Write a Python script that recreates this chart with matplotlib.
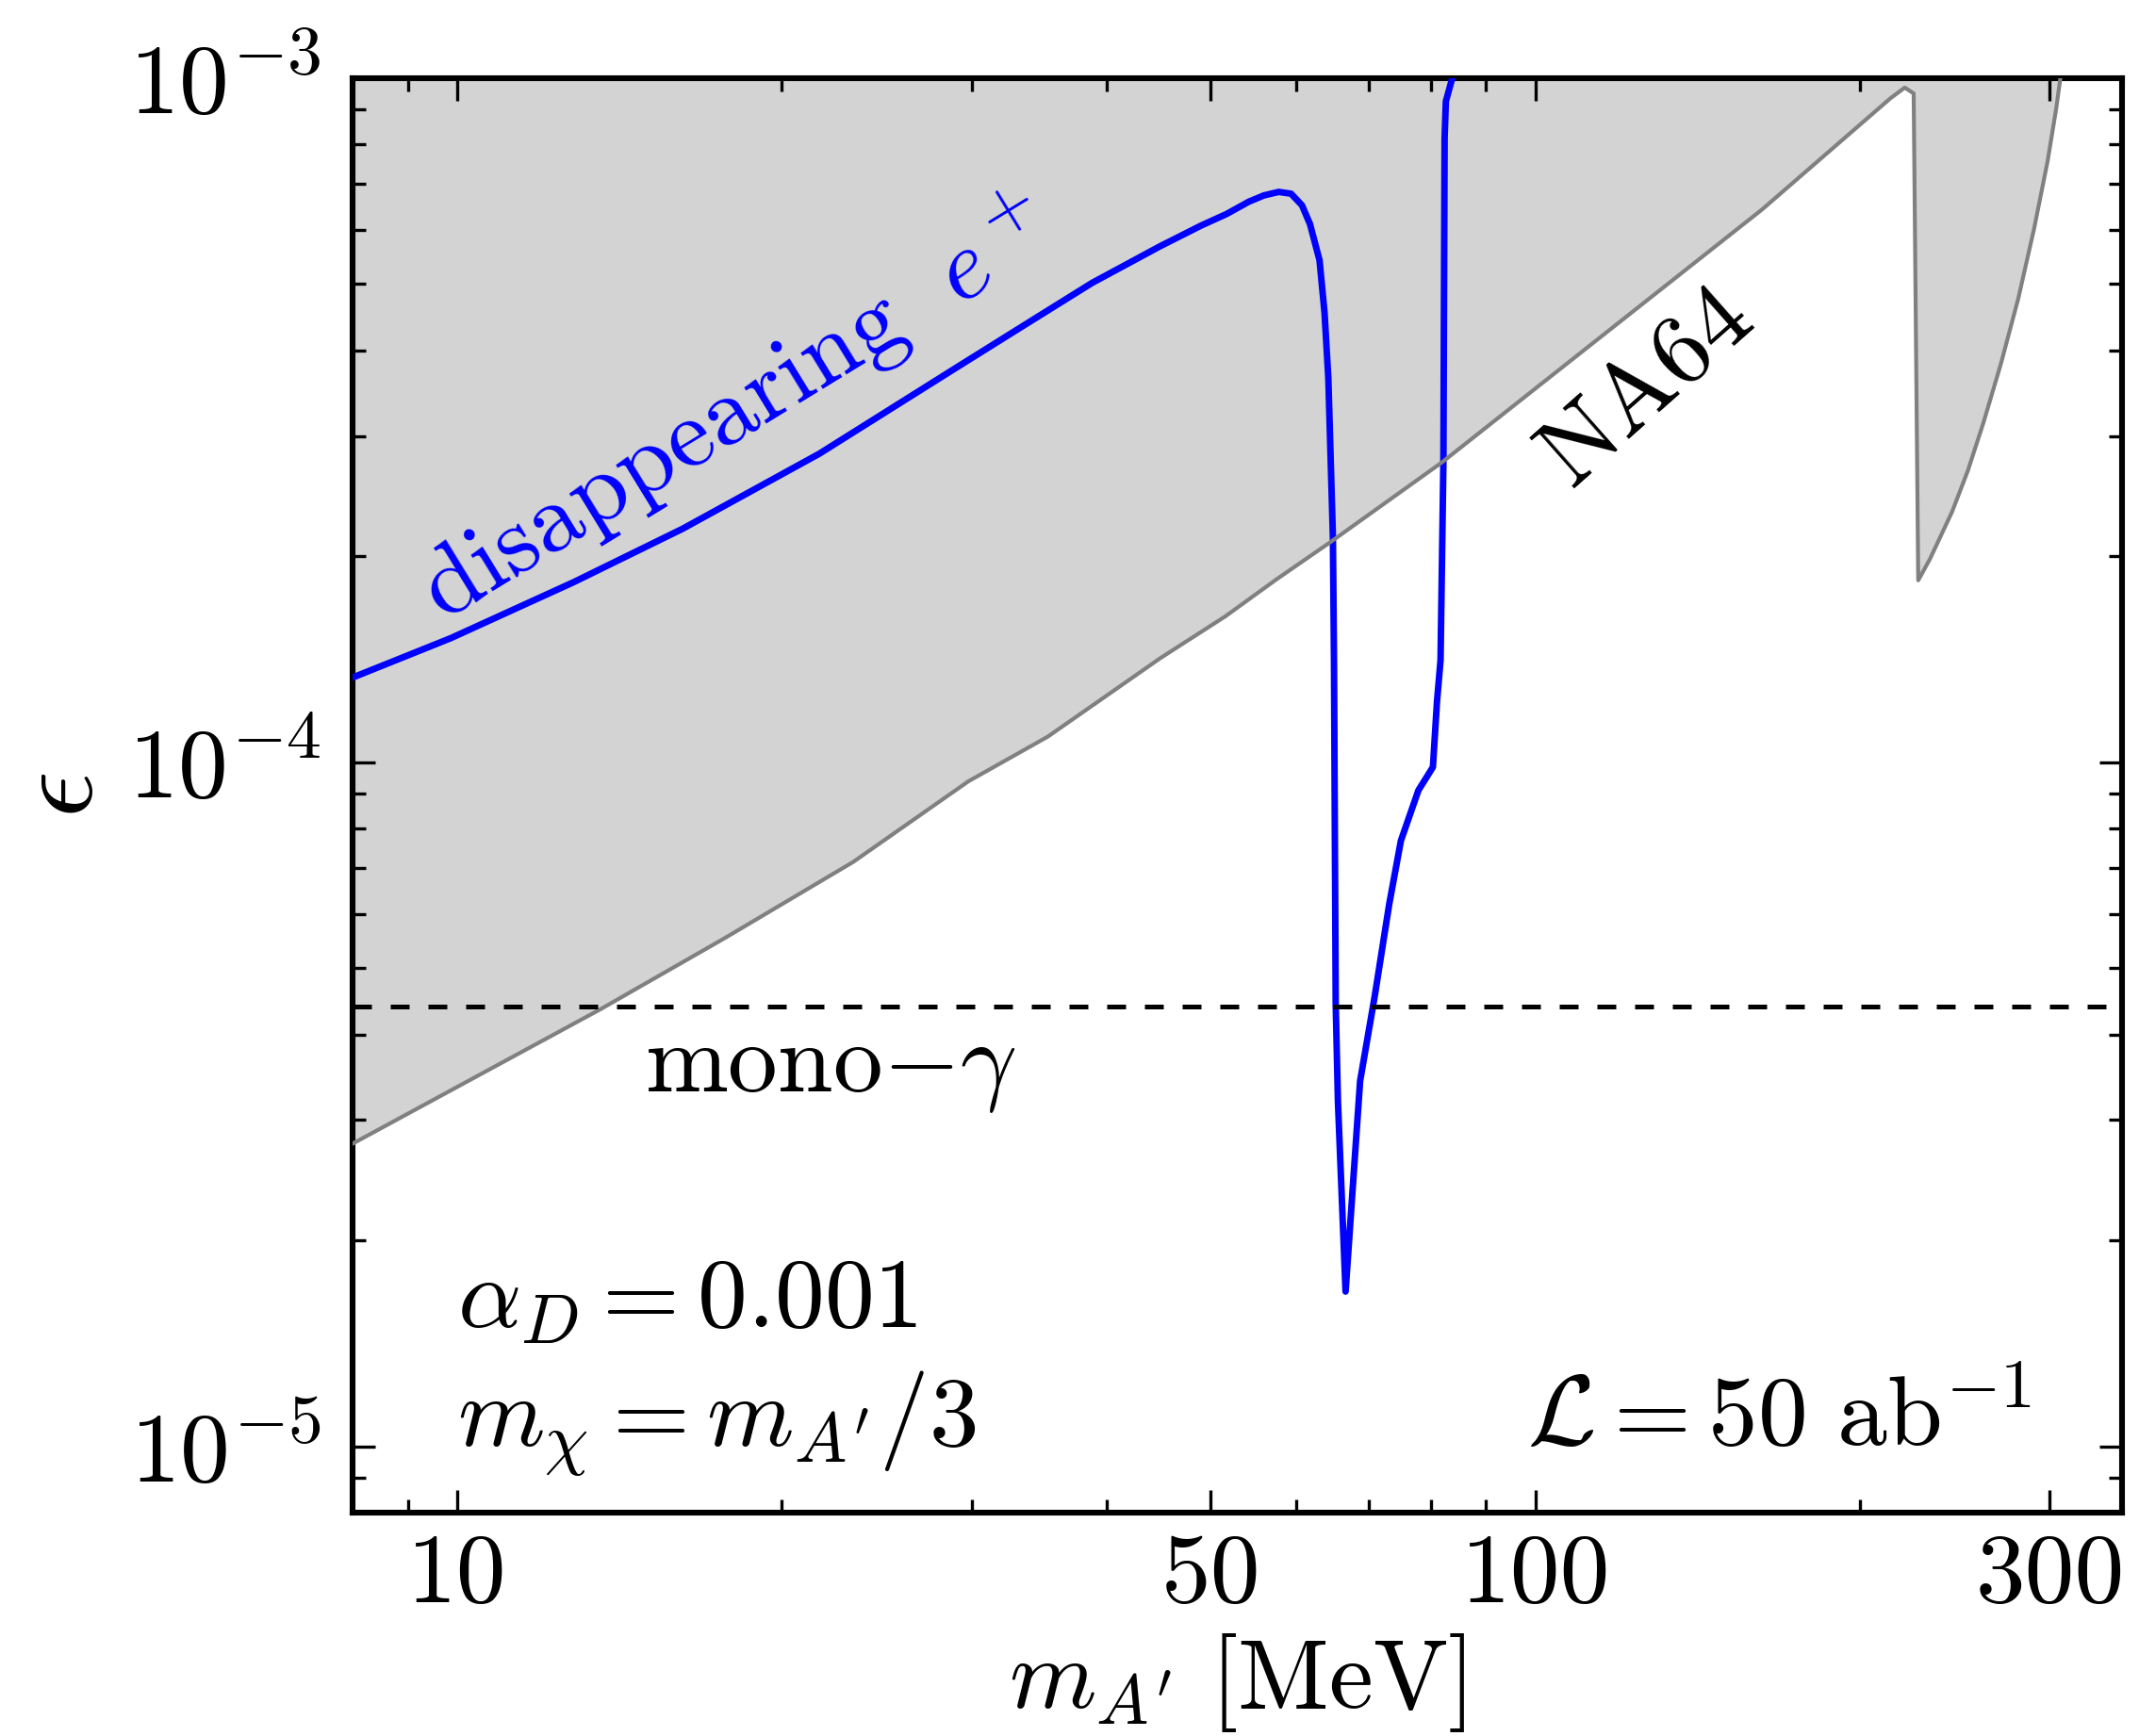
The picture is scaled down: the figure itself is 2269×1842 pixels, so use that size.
import matplotlib
matplotlib.use("Agg")
import matplotlib.pyplot as plt
from matplotlib.ticker import FixedLocator, FixedFormatter, LogLocator, NullFormatter

plt.rcParams.update({
    "font.family": "serif",
    "font.serif": ["cmr10"],
    "mathtext.fontset": "cm",
    "axes.formatter.use_mathtext": True,
    "axes.unicode_minus": False,
})

# NA64 exclusion boundary (region above is excluded)
na64_mass = [8.0, 13.6, 17.7, 23.3, 29.8, 35.3, 44.9, 51.6, 57.5, 64.6, 81.9,
             162.3, 213.5, 220.1, 224.3, 226.5, 232.3, 243.5, 251.8, 260.4,
             270.3, 280.5, 290.1, 298.6, 304.1, 306.8]
na64_eps = [2.77e-5, 4.36e-5, 5.53e-5, 7.15e-5, 9.38e-5, 1.09e-4, 1.42e-4,
            1.635e-4, 1.85e-4, 2.1e-4, 2.744e-4, 6.43e-4, 9.35e-4, 9.69e-4,
            9.5e-4, 1.845e-4, 1.984e-4, 2.325e-4, 2.668e-4, 3.14e-4, 3.83e-4,
            4.77e-4, 6.03e-4, 7.57e-4, 9.03e-4, 1.0e-3]

# disappearing-positron projected sensitivity
dis_mass = [8.0, 9.87, 12.83, 16.19, 21.67, 29.0, 33.55, 38.8, 44.87, 48.98,
            51.7, 54.24, 56.0, 57.8, 59.35, 60.75, 61.8, 63.07, 63.75, 64.27,
            64.9, 65.05, 65.29, 65.6, 66.68, 68.78, 70.96, 73.2, 75.04, 77.9,
            80.35, 81.05, 81.67, 82.17, 82.38, 82.6, 83.6, 83.8]
dis_eps = [1.33e-4, 1.519e-4, 1.834e-4, 2.195e-4, 2.825e-4, 3.77e-4, 4.352e-4,
           5.02e-4, 5.68e-4, 6.09e-4, 6.33e-4, 6.60e-4, 6.74e-4, 6.82e-4,
           6.78e-4, 6.52e-4, 6.12e-4, 5.42e-4, 4.54e-4, 3.64e-4, 2.13e-4,
           1.41e-4, 4.42e-5, 3.19e-5, 1.684e-5, 3.42e-5, 4.55e-5, 6.21e-5,
           7.68e-5, 9.1e-5, 9.84e-5, 1.226e-4, 1.41e-4, 2.744e-4, 8.18e-4,
           9.25e-4, 9.91e-4, 1.0e-3]

# mono-photon projected reach
mono_gamma_eps = 4.4e-5

x_limits = (8.0, 350.0)
y_limits = (8e-6, 1e-3)
x_major = [10, 50, 100, 300]
x_major_labels = ["10", "50", "100", "300"]

fig = plt.figure(figsize=(2269 / 200, 1842 / 200), dpi=200)
ax = fig.add_axes([0.16483, 0.12866, 0.82724, 0.82628])
ax.set_xscale("log")
ax.set_yscale("log")

ax.fill_between(na64_mass, na64_eps, y_limits[1], color="lightgray", lw=0, zorder=1)
ax.plot(dis_mass, dis_eps, color="blue", lw=2.5, zorder=3,
        solid_capstyle="round", solid_joinstyle="round")
ax.plot(na64_mass, na64_eps, color="gray", lw=1.5, zorder=4)
ax.axhline(mono_gamma_eps, color="black", lw=1.8, dashes=(4, 4), zorder=5)

ax.set_xlim(*x_limits)
ax.set_ylim(*y_limits)

ax.xaxis.set_major_locator(FixedLocator(x_major))
ax.xaxis.set_major_formatter(FixedFormatter(x_major_labels))
ax.xaxis.set_minor_locator(LogLocator(base=10, subs=range(2, 10), numticks=50))
ax.xaxis.set_minor_formatter(NullFormatter())
ax.yaxis.set_major_locator(LogLocator(base=10, numticks=20))
ax.yaxis.set_minor_locator(LogLocator(base=10, subs=range(2, 10), numticks=50))
ax.yaxis.set_minor_formatter(NullFormatter())

for s in ax.spines.values():
    s.set_linewidth(2.2)
ax.tick_params(which="both", direction="in", top=True, right=True, width=1.2)
ax.tick_params(which="major", length=8.6, labelsize=38)
ax.tick_params(which="minor", length=5)
ax.tick_params(axis="x", which="major", pad=8)
ax.tick_params(axis="y", which="major", pad=12)

ax.set_xlabel(r"$m_{A'}\ [\mathrm{MeV}]$", fontsize=38, labelpad=4)
ax.set_ylabel(r"$\epsilon$", fontsize=44, labelpad=5)

ax.text(0.0591, 0.1294, r"$\alpha_D = 0.001$", transform=ax.transAxes,
        fontsize=38, ha="left", va="baseline")
ax.text(0.0591, 0.0466, r"$m_\chi = m_{A'}/3$", transform=ax.transAxes,
        fontsize=38, ha="left", va="baseline")
ax.text(0.6638, 0.0466, r"$\mathcal{L} = 50\ \mathrm{ab}^{-1}$", transform=ax.transAxes,
        fontsize=38, ha="left", va="baseline")
ax.text(0.1652, 0.2937, r"mono$-\gamma$", transform=ax.transAxes,
        fontsize=38, ha="left", va="baseline")
ax.text(0.732, 0.7847, "NA64", transform=ax.transAxes, fontsize=38,
        rotation=41.5, rotation_mode="anchor", ha="center", va="center")
ax.text(0.2168, 0.7694, r"disappearing $\;e^+$", transform=ax.transAxes,
        fontsize=38, color="blue", rotation=31.5, rotation_mode="anchor",
        ha="center", va="center")

fig.savefig("out.png", dpi=200)
